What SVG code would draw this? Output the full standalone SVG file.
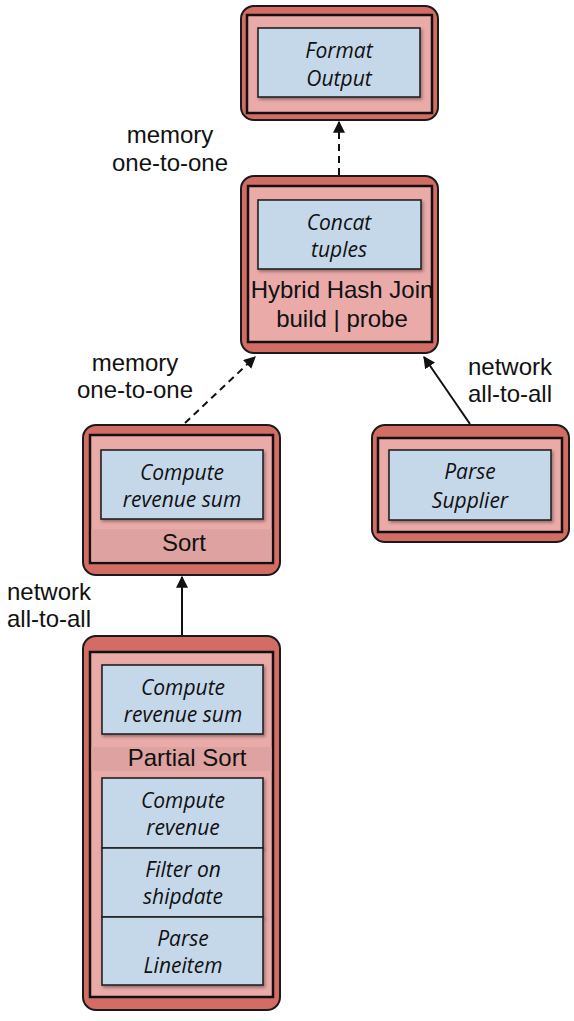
<svg xmlns="http://www.w3.org/2000/svg" width="574" height="1021" viewBox="0 0 574 1021">
<style>
.outer{fill:#d46c66;stroke:#1a1a1a;stroke-width:2}
.inner{fill:#e9aaa8;stroke:#111;stroke-width:2.5}
.band{fill:#dea2a0}
.op{fill:#c5d8ea;stroke:#222;stroke-width:1.6}
.it{font-family:"Open Sans",Lato,"DejaVu Sans",sans-serif;font-style:italic;font-size:21px;fill:#111;text-anchor:middle}
.lb{font-family:"Liberation Sans",Arial,sans-serif;font-size:24px;fill:#111;text-anchor:middle}
.edge{stroke:#111;stroke-width:2;fill:none}
.dash{stroke-dasharray:7,5}
</style>
<defs>
<marker id="ah" viewBox="0 0 10 10" refX="9" refY="5" markerWidth="6" markerHeight="6" orient="auto" markerUnits="strokeWidth"><path d="M0,0 L10,5 L0,10 z" fill="#111"/></marker>
<filter id="sh" x="-10%" y="-10%" width="130%" height="130%"><feDropShadow dx="1.5" dy="2" stdDeviation="1.5" flood-color="#000" flood-opacity="0.35"/></filter>
<clipPath id="hjclip"><rect x="248" y="186" width="184" height="156"/></clipPath>
</defs>
<g id="connectors">
<line class="edge dash" x1="339" y1="175" x2="339" y2="122" marker-end="url(#ah)"/>
<line class="edge dash" x1="185" y1="423" x2="255" y2="357" marker-end="url(#ah)"/>
<line class="edge" x1="470" y1="424" x2="424" y2="357" marker-end="url(#ah)"/>
<line class="edge" x1="182" y1="636" x2="182" y2="577" marker-end="url(#ah)"/>
</g>
<g id="labels">
<text class="lb" x="170" y="143">memory</text>
<text class="lb" x="170" y="171">one-to-one</text>
<text class="lb" x="135" y="371">memory</text>
<text class="lb" x="135" y="398">one-to-one</text>
<text class="lb" x="510" y="375">network</text>
<text class="lb" x="510" y="402">all-to-all</text>
<text class="lb" x="49" y="600">network</text>
<text class="lb" x="49" y="627">all-to-all</text>
</g>
<g id="format-output">
<rect class="outer" x="241" y="6" width="197" height="114" rx="13"/>
<rect class="inner" x="247" y="15" width="185" height="98"/>
<rect class="op" x="258" y="28" width="162" height="69" filter="url(#sh)"/>
<text class="it" x="339" y="58">Format</text>
<text class="it" x="339" y="86">Output</text>
</g>
<g id="hash-join">
<rect class="outer" x="241" y="176" width="197" height="177" rx="13"/>
<rect class="inner" x="248" y="186" width="184" height="156"/>
<rect class="op" x="258" y="200" width="163" height="69" filter="url(#sh)"/>
<text class="it" x="339" y="230">Concat</text>
<text class="it" x="339" y="257">tuples</text>
<g clip-path="url(#hjclip)">
<text class="lb" x="342" y="298">Hybrid Hash Join</text>
<text class="lb" x="342" y="327">build | probe</text>
</g>
</g>
<g id="parse-supplier">
<rect class="outer" x="372" y="425" width="197" height="117" rx="13"/>
<rect class="inner" x="378" y="438" width="184" height="94"/>
<rect class="op" x="389" y="450" width="162" height="70" filter="url(#sh)"/>
<text class="it" x="470" y="479">Parse</text>
<text class="it" x="470" y="508">Supplier</text>
</g>
<g id="sort">
<rect class="outer" x="83" y="425" width="197" height="150" rx="13"/>
<rect class="inner" x="90" y="435" width="183" height="128"/>
<rect class="band" x="91.5" y="529" width="180" height="32.5"/>
<rect class="op" x="101" y="450" width="162" height="69" filter="url(#sh)"/>
<text class="it" x="182" y="480">Compute</text>
<text class="it" x="182" y="507">revenue sum</text>
<text class="lb" x="184" y="551">Sort</text>
</g>
<g id="partial-sort">
<rect class="outer" x="83" y="636" width="197" height="374" rx="13"/>
<rect class="inner" x="90" y="652" width="183" height="345"/>
<rect class="band" x="91.5" y="747" width="180" height="24"/>
<rect class="op" x="102" y="665" width="161" height="69" filter="url(#sh)"/>
<text class="it" x="183" y="695">Compute</text>
<text class="it" x="183" y="722">revenue sum</text>
<text class="lb" x="187" y="766">Partial Sort</text>
<rect class="op" x="102" y="778" width="161" height="70" filter="url(#sh)"/>
<text class="it" x="183" y="808">Compute</text>
<text class="it" x="183" y="835">revenue</text>
<rect class="op" x="102" y="848" width="161" height="69" filter="url(#sh)"/>
<text class="it" x="183" y="877">Filter on</text>
<text class="it" x="183" y="904">shipdate</text>
<rect class="op" x="102" y="917" width="161" height="68" filter="url(#sh)"/>
<text class="it" x="183" y="946">Parse</text>
<text class="it" x="183" y="973">Lineitem</text>
</g>
</svg>
